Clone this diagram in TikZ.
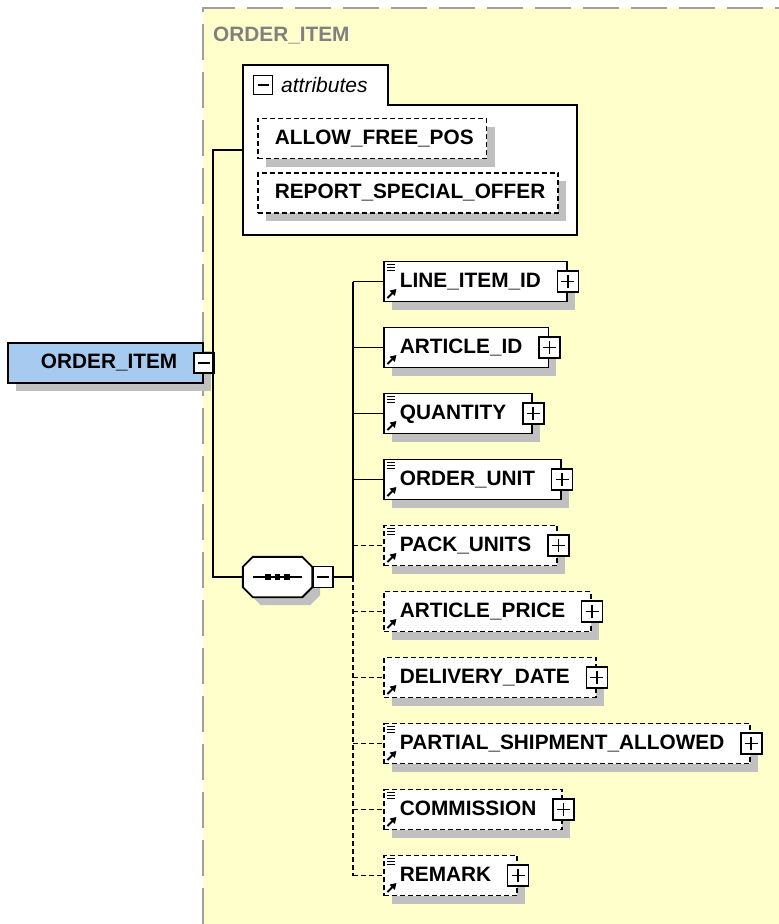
\documentclass[tikz,border=0pt]{standalone}
\usepackage{fontspec}
\setmainfont{Liberation Sans}
\usetikzlibrary{arrows.meta,shadows,calc}

\definecolor{xsdyellow}{RGB}{255,255,204}
\definecolor{xsdblue}{RGB}{166,202,240}
\definecolor{xsdshadow}{RGB}{192,192,192}
\definecolor{xsdborder}{RGB}{160,160,160}
\definecolor{xsdtitle}{RGB}{128,128,128}

\newcommand{\eltypelines}{\foreach \k in {3,5.8,8.6}{\draw[solid,line width=1.1pt] ([shift={(3pt,-\k pt)}]path picture bounding box.north west) -- ++(8.5pt,0pt);}}
\newcommand{\elrefarrow}{\draw[solid,line width=2pt,-{Triangle[length=6pt,width=7pt]}] ([shift={(3.5pt,3.5pt)}]path picture bounding box.south west) -- ++(9pt,9pt);}
\newcommand{\seqoct}{([xshift=10pt]seq.north west) -- ([xshift=-10pt]seq.north east) -- ([yshift=-10pt]seq.north east)
    -- ([yshift=10pt]seq.south east) -- ([xshift=-10pt]seq.south east) -- ([xshift=10pt]seq.south west)
    -- ([yshift=10pt]seq.south west) -- ([yshift=-10pt]seq.north west) -- cycle}

\begin{document}
\begin{tikzpicture}[
    x=1pt, y=-1pt,
    lbl/.style={font=\fontsize{20.8}{24}\selectfont\bfseries, text height=14.5pt, text depth=3pt},
    shad/.style={drop shadow={shadow xshift=8pt, shadow yshift=-8pt, opacity=1, fill=xsdshadow}},
    elem/.style={lbl, shad, draw, line width=1.9pt, fill=white, minimum height=40pt, inner xsep=0pt, inner ysep=0pt, anchor=west,
        execute at begin node={\hspace*{16pt}}, execute at end node={\hspace*{26pt}}},
    opt/.style={elem, dash pattern=on 5pt off 3pt},
    typed/.style={path picture={\eltypelines\elrefarrow}},
    ref/.style={path picture={\elrefarrow}},
    attr/.style={lbl, shad, draw, dash pattern=on 5pt off 3pt, line width=1.7pt, fill=white, minimum height=40pt, inner xsep=0pt, anchor=west,
        execute at begin node={\hspace*{17pt}}, execute at end node={\hspace*{13pt}}},
    plusbox/.style={draw, solid, fill=white, line width=1.6pt, minimum size=21pt, inner sep=0pt,
        path picture={\draw[line width=1.5pt] ([xshift=4pt]path picture bounding box.west) -- ([xshift=-4pt]path picture bounding box.east)
            ([yshift=-4pt]path picture bounding box.north) -- ([yshift=4pt]path picture bounding box.south);}},
    minusbox/.style={draw, solid, fill=white, line width=1.6pt, minimum size=20pt, inner sep=0pt,
        path picture={\draw[line width=1.5pt] ([xshift=4pt]path picture bounding box.west) -- ([xshift=-4pt]path picture bounding box.east);}},
    conn/.style={line width=1.8pt},
    optconn/.style={conn, dash pattern=on 5pt off 3pt}
]
\useasboundingbox (0,0) rectangle (779,924);
\fill[xsdyellow] (203,8) rectangle (779,924);
\draw[xsdborder, line width=2pt, dash pattern=on 36pt off 12pt] (203,924) -- (203,8) -- (779,8);
\node[lbl, text=xsdtitle, anchor=west, inner sep=0pt] (title) at (213,36) {ORDER\_ITEM};

\node[minimum width=334pt, minimum height=170pt, inner sep=0pt] (attrs) at (410,150) {};
\draw[line width=1.9pt, fill=white] (attrs.north west) -- ++(145,0) -- ++(0,40) -| (attrs.south east) -| (attrs.north west) -- cycle;
\node[minusbox, line width=1.3pt, minimum size=19pt] (attrs-m) at (263,85) {};
\node[font=\fontsize{21}{24}\selectfont\itshape, anchor=west, inner sep=0pt] (attrs-lbl) at (281,85) {attributes};
\node[attr] (freepos) at (257,138.5) {ALLOW\_FREE\_POS};
\node[attr] (specoffer) at (257,193) {REPORT\_SPECIAL\_OFFER};

\node[elem, fill=xsdblue, execute at begin node={\hspace*{17pt}}] (root) at (7,363) {ORDER\_ITEM};
\node[minusbox] (root-m) at (root.east) {};

\node[minimum width=69pt, minimum height=40pt, inner sep=0pt] (seq) at (277.5,577) {};
\begin{scope}[transform canvas={xshift=8pt, yshift=-8pt}]
\fill[xsdshadow] \seqoct;
\end{scope}
\draw[line width=1.9pt, fill=white] \seqoct;
\node[minusbox, anchor=west, minimum height=21pt] (seq-m) at (seq.east) {};
\draw[line width=1.6pt] ([xshift=10pt]seq.west) -- ([xshift=-10pt]seq.east);
\foreach \d in {-9.5,0,9.5}
    \fill ($(seq.center)+(\d,0)$) +(-2.7,-2.7) rectangle +(2.7,2.7);

\node[elem, typed] (lineid) at (383,281.5) {LINE\_ITEM\_ID};
\node[elem, ref] (articleid) at (383,347.5) {ARTICLE\_ID};
\node[elem, typed] (quantity) at (383,413.5) {QUANTITY};
\node[elem, typed] (orderunit) at (383,479.5) {ORDER\_UNIT};
\node[opt, typed] (packunits) at (383,545.5) {PACK\_UNITS};
\node[opt, ref] (articleprice) at (383,611.5) {ARTICLE\_PRICE};
\node[opt, ref] (deliverydate) at (383,677.5) {DELIVERY\_DATE};
\node[opt, typed] (partial) at (383,743.5) {PARTIAL\_SHIPMENT\_ALLOWED};
\node[opt, typed] (commission) at (383,809.5) {COMMISSION};
\node[opt, typed] (remark) at (383,875.5) {REMARK};
\foreach \n in {lineid,articleid,quantity,orderunit,packunits,articleprice,deliverydate,partial,commission,remark}
    \node[plusbox] (\n-p) at (\n.east) {};

\coordinate (trunk) at (213,363);
\coordinate (bus) at (353,577);
\draw[conn] (root-m.east) -- (trunk);
\draw[conn] (attrs.west) -| (trunk) |- (seq.west);
\draw[conn] (seq-m.east) -- (bus);
\draw[conn] (bus) -- (bus |- lineid.west);
\draw[optconn] (bus) -- (bus |- remark.west);
\foreach \n in {lineid,articleid,quantity,orderunit}
    \draw[conn] (bus |- \n.west) -- (\n.west);
\foreach \n in {packunits,articleprice,deliverydate,partial,commission,remark}
    \draw[optconn] (bus |- \n.west) -- (\n.west);
\end{tikzpicture}
\end{document}
